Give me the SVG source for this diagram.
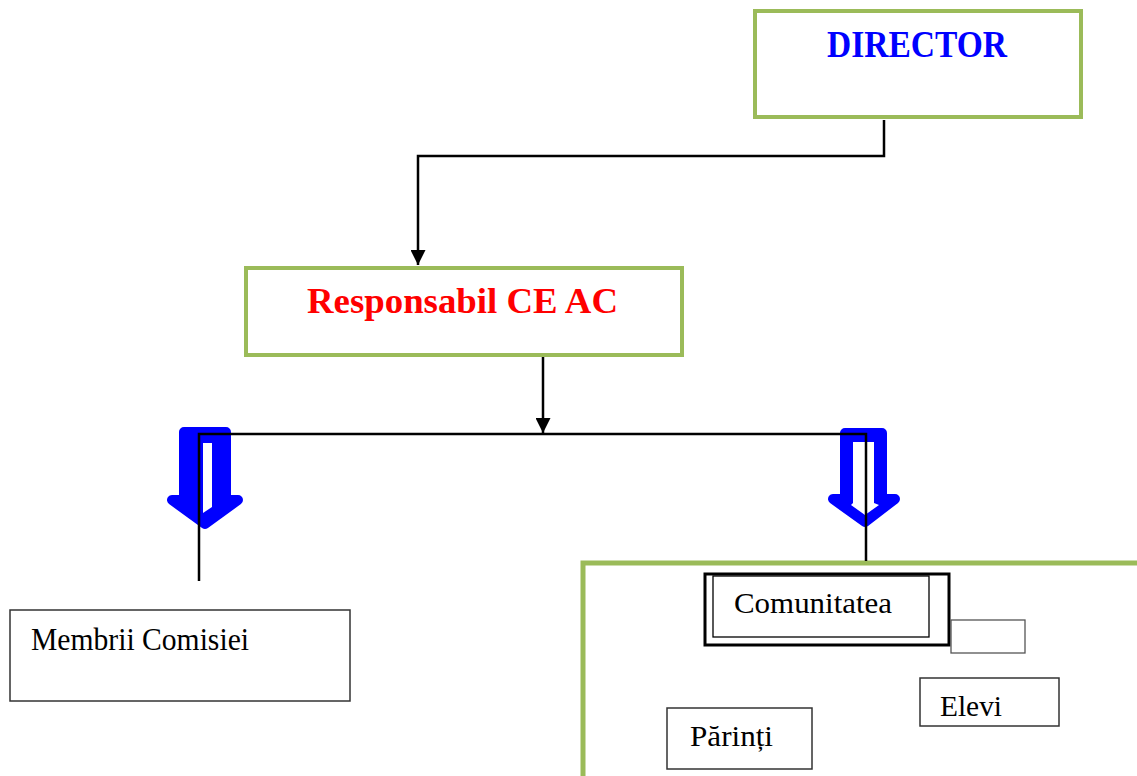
<svg xmlns="http://www.w3.org/2000/svg" width="1137" height="776" viewBox="0 0 1137 776">
<style>
.green{fill:#fff;stroke:#9BBB59;stroke-width:4}
.box{fill:#fff;stroke:#333;stroke-width:1.5}
.conn{fill:none;stroke:#000;stroke-width:2.5}
.blue{fill:#0000FF;stroke:#0000FF;stroke-width:10;stroke-linejoin:round}
.hole{fill:#fff}
.t{font-family:"Liberation Serif","DejaVu Serif",serif;fill:#000}
.tb{font-family:"Liberation Serif","DejaVu Serif",serif;font-weight:bold}
</style>
<defs>
<marker id="ah" markerUnits="userSpaceOnUse" markerWidth="15" markerHeight="15" viewBox="0 0 15 15" refX="15" refY="7.5" orient="auto">
<path d="M0,0 L15,7.5 L0,15 z" fill="#000"/>
</marker>
</defs>
<rect width="1137" height="776" fill="#fff"/>
<g id="director">
<rect class="green" x="755" y="11" width="326" height="106"/>
<text class="tb" x="827" y="57" font-size="38" fill="#0000FF" textLength="180" lengthAdjust="spacingAndGlyphs">DIRECTOR</text>
</g>
<g id="responsabil">
<rect class="green" x="246" y="268" width="436" height="87"/>
<text class="tb" x="307" y="313" font-size="36" fill="#FF0000" textLength="311" lengthAdjust="spacingAndGlyphs">Responsabil CE AC</text>
</g>
<g id="arrow-left">
<polygon class="blue" points="184,432 226,432 226,500 238,500 205,524 172,500 184,500"/>
<polygon class="hole" points="203,443 212,443 212,507 203,513"/>
</g>
<g id="arrow-right">
<polygon class="blue" points="845,433 882,433 882,499 895,499 865,522 833,499 845,499"/>
<polygon class="hole" points="853,442 874,442 874,503 879,505 865,515 851,505 853,503"/>
</g>
<g id="membrii">
<rect class="box" x="10" y="610" width="340" height="91"/>
<text class="t" x="31" y="650" font-size="31" textLength="218" lengthAdjust="spacingAndGlyphs">Membrii Comisiei</text>
</g>
<g id="grup">
<rect fill="#fff" stroke="#9BBB59" stroke-width="5" x="583" y="563" width="600" height="240"/>
</g>
<g id="comunitatea">
<rect fill="#fff" stroke="#000" stroke-width="3" x="705" y="574" width="244" height="71"/>
<rect fill="none" stroke="#000" stroke-width="1.3" x="713" y="576" width="216" height="61"/>
<text class="t" x="734" y="613" font-size="30" textLength="158" lengthAdjust="spacingAndGlyphs">Comunitatea</text>
</g>
<g id="gol">
<rect fill="#fff" stroke="#555" stroke-width="1.3" x="951" y="620" width="74" height="33"/>
</g>
<g id="elevi">
<rect class="box" x="920" y="678" width="139" height="48"/>
<text class="t" x="940" y="716" font-size="30" textLength="62" lengthAdjust="spacingAndGlyphs">Elevi</text>
</g>
<g id="parinti">
<rect class="box" x="667" y="708" width="145" height="61"/>
<text class="t" x="690" y="746" font-size="30" textLength="83" lengthAdjust="spacingAndGlyphs">Părinți</text>
</g>
<g id="connectors">
<path class="conn" d="M884,120 V156 H418 V265" marker-end="url(#ah)"/>
<path class="conn" d="M543,357 V433" marker-end="url(#ah)"/>
<path class="conn" d="M199,581 V434 H866 V561"/>
</g>
</svg>
